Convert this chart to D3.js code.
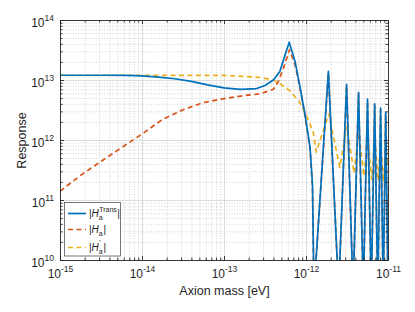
<!DOCTYPE html>
<html>
<head>
<meta charset="utf-8">
<script src="https://cdn.jsdelivr.net/npm/d3@7"></script>
<style>
  body { margin: 0; background: #fff; }
  svg { display: block; font-family: "Liberation Sans", Arial, Helvetica, sans-serif; }
</style>
</head>
<body>
<svg id="chart" width="415" height="312"></svg>
<script>
// tick values
var massTicks = [1e-15, 1e-14, 1e-13, 1e-12, 1e-11];
var massTickExp = ["-15", "-14", "-13", "-12", "-11"];
var respTicks = [1e10, 1e11, 1e12, 1e13, 1e14];
var respTickExp = ["10", "11", "12", "13", "14"];

// |H_a^Trans|
var transMass = [1e-15, 3.16e-15, 6.3e-15, 1e-14, 1.58e-14, 2.5e-14, 4e-14, 6.3e-14, 1e-13, 1.58e-13,
                 2.5e-13, 3.16e-13, 4e-13, 4.8e-13, 5.5e-13, 6.25e-13, 7.35e-13, 8.45e-13, 9.7e-13, 1.12e-12,
                 1.2e-12, 1.25e-12, 1.875e-12, 2.5e-12, 3.125e-12, 3.75e-12, 4.375e-12, 5e-12, 5.625e-12, 6.25e-12,
                 6.875e-12, 7.5e-12, 8.125e-12, 8.75e-12, 9.375e-12, 1e-11];
var transResp = [1.2e13, 1.2e13, 1.19e13, 1.175e13, 1.12e13, 1.05e13, 9.5e12, 8.3e12, 7.4e12, 7.0e12,
                 7.2e12, 8.1e12, 1.0e13, 1.38e13, 2.5e13, 4.27e13, 2.04e13, 7.6e12, 2.7e12, 7.6e11,
                 1.8e11, 3e9, 1.4e13, 3e9, 8.5e12, 3e9, 6.2e12, 3e9, 4.8e12, 3e9,
                 4.0e12, 3e9, 3.4e12, 3e9, 2.9e12, 3e9];

// |H_a|
var haMass = [1e-15, 1.78e-15, 3.16e-15, 5.6e-15, 1e-14, 1.78e-14, 3.16e-14, 5.6e-14, 1e-13, 1.78e-13,
              2.8e-13, 4e-13, 4.6e-13, 5.25e-13, 6.3e-13, 7.35e-13, 8.45e-13, 9.7e-13, 1.12e-12, 1.2e-12,
              1.25e-12, 1.875e-12, 2.5e-12, 3.125e-12, 3.75e-12, 4.375e-12, 5e-12, 5.625e-12, 6.25e-12,
              6.875e-12, 7.5e-12, 8.125e-12, 8.75e-12, 9.375e-12, 1e-11];
var haResp = [1.4e11, 2.57e11, 4.4e11, 7.4e11, 1.26e12, 2.2e12, 3.2e12, 4.2e12, 4.9e12, 5.5e12,
              5.9e12, 7.0e12, 9.5e12, 1.5e13, 3.2e13, 1.8e13, 7.4e12, 2.6e12, 7.1e11, 1.6e11,
              3e9, 1.3e13, 3e9, 8.0e12, 3e9, 5.8e12, 3e9, 4.5e12, 3e9,
              3.8e12, 3e9, 3.2e12, 3e9, 2.7e12, 3e9];

// |H'_a|
var hpMass = [1e-15, 1e-14, 1e-13, 1.78e-13, 2.8e-13, 4e-13, 4.8e-13, 6.4e-13, 8.45e-13, 1.02e-12,
              1.23e-12, 1.33e-12, 1.9e-12, 2.58e-12, 3.15e-12, 3.85e-12, 4.4e-12, 5.1e-12, 5.65e-12, 6.35e-12,
              6.9e-12, 7.6e-12, 8.1e-12, 8.85e-12, 9.35e-12, 1e-11];
var hpResp = [1.2e13, 1.2e13, 1.19e13, 1.15e13, 1.1e13, 1.0e13, 8.7e12, 6.6e12, 4.2e12, 2.5e12,
              1.32e12, 6.3e11, 2.7e12, 3.5e11, 1.66e12, 2.8e11, 1.32e12, 2.5e11, 1.12e12, 2.2e11,
              1.0e12, 2.1e11, 8.9e11, 2.0e11, 8.3e11, 4e11];

var blue = "#0072BD", orange = "#D95319", yellow = "#EDB120", ink = "#262626";

var L = 60, R = 388, T = 20, B = 260;
var svg = d3.select("#chart");

var x = d3.scaleLog().domain([1e-15, 1e-11]).range([L, R]),
    y = d3.scaleLog().domain([1e10, 1e14]).range([B, T]);

function isDecade(t, list) { return list.some(function(m) { return Math.abs(t / m - 1) < 1e-6; }); }
var minorX = x.ticks().filter(function(t) { return !isDecade(t, massTicks); });
var minorY = y.ticks().filter(function(t) { return !isDecade(t, respTicks); });

function clean(g) { g.select(".domain").remove(); g.attr("font-family", null).attr("font-size", null); }

// grid
svg.append("g").attr("transform", "translate(0," + B + ")")
  .call(d3.axisBottom(x).tickValues(minorX).tickSize(-(B - T)).tickFormat(""))
  .call(clean)
  .selectAll("line").attr("stroke", "#d2d2d2").attr("stroke-dasharray", "1,1.6");
svg.append("g").attr("transform", "translate(" + L + ",0)")
  .call(d3.axisLeft(y).tickValues(minorY).tickSize(-(R - L)).tickFormat(""))
  .call(clean)
  .selectAll("line").attr("stroke", "#d2d2d2").attr("stroke-dasharray", "1,1.6");
svg.append("g").attr("transform", "translate(0," + B + ")")
  .call(d3.axisBottom(x).tickValues(massTicks).tickSize(-(B - T)).tickFormat(""))
  .call(clean)
  .selectAll("line").attr("stroke", "#dcdcdc");
svg.append("g").attr("transform", "translate(" + L + ",0)")
  .call(d3.axisLeft(y).tickValues(respTicks).tickSize(-(R - L)).tickFormat(""))
  .call(clean)
  .selectAll("line").attr("stroke", "#dcdcdc");

// curves
svg.append("clipPath").attr("id", "plotclip")
  .append("rect").attr("x", L).attr("y", T).attr("width", R - L + 1).attr("height", B - T + 1);

var line = d3.line().x(function(d) { return x(d[0]); }).y(function(d) { return y(d[1]); });
var series = [
  { mass: hpMass, resp: hpResp, color: yellow, dash: "5,3.5" },
  { mass: haMass, resp: haResp, color: orange, dash: "5,3.5" },
  { mass: transMass, resp: transResp, color: blue, dash: null }
];
svg.append("g").attr("clip-path", "url(#plotclip)")
  .selectAll("path").data(series).enter().append("path")
  .attr("d", function(s) { return line(d3.zip(s.mass, s.resp)); })
  .attr("fill", "none")
  .attr("stroke", function(s) { return s.color; })
  .attr("stroke-width", 1.7)
  .attr("stroke-linejoin", "round")
  .attr("stroke-dasharray", function(s) { return s.dash; });

// ticks on all four sides
function ticks(axis, tr) {
  return svg.append("g").attr("transform", tr).call(axis).call(clean);
}
ticks(d3.axisBottom(x).tickValues(minorX).tickSize(-2.5).tickFormat(""), "translate(0," + B + ")");
ticks(d3.axisTop(x).tickValues(minorX).tickSize(-2.5).tickFormat(""), "translate(0," + T + ")");
ticks(d3.axisLeft(y).tickValues(minorY).tickSize(-2.5).tickFormat(""), "translate(" + L + ",0)");
ticks(d3.axisRight(y).tickValues(minorY).tickSize(-2.5).tickFormat(""), "translate(" + R + ",0)");
ticks(d3.axisTop(x).tickValues(massTicks).tickSize(-4).tickFormat(""), "translate(0," + T + ")");
ticks(d3.axisRight(y).tickValues(respTicks).tickSize(-4).tickFormat(""), "translate(" + R + ",0)");

var gx = ticks(d3.axisBottom(x).tickValues(massTicks).tickSize(-4).tickFormat(function() { return "10"; }),
               "translate(0," + B + ")");
gx.selectAll("text").attr("y", 17.5).attr("dy", null).attr("font-size", 12).attr("fill", ink)
  .append("tspan").attr("dy", -6).attr("font-size", 8.5).text(function(d, i) { return massTickExp[i]; });

var gy = ticks(d3.axisLeft(y).tickValues(respTicks).tickSize(-4).tickFormat(function() { return "10"; }),
               "translate(" + L + ",0)");
gy.selectAll("text").attr("x", -6).attr("dy", 6.5).attr("font-size", 12).attr("fill", ink)
  .append("tspan").attr("dy", -6).attr("font-size", 8.5).text(function(d, i) { return respTickExp[i]; });

svg.selectAll(".tick line").filter(function() { return !this.getAttribute("stroke-dasharray"); })
  .each(function() {
    var s = d3.select(this);
    if (s.attr("stroke") === "currentColor") s.attr("stroke", ink).attr("stroke-width", 0.9);
  });

// box
svg.append("rect").attr("x", L + 0.5).attr("y", T + 0.5).attr("width", R - L).attr("height", B - T)
  .attr("fill", "none").attr("stroke", ink).attr("stroke-width", 0.9);

// axis labels
svg.append("text").attr("x", (L + R) / 2 + 0.5).attr("y", 295).attr("text-anchor", "middle")
  .attr("font-size", 12.5).attr("fill", ink).text("Axion mass [eV]");
svg.append("text").attr("transform", "translate(26," + ((T + B) / 2 + 0.5) + ") rotate(-90)")
  .attr("text-anchor", "middle").attr("font-size", 12.5).attr("fill", ink).text("Response");

// legend
var lg = svg.append("g");
lg.append("rect").attr("x", 64.5).attr("y", 202.5).attr("width", 56).attr("height", 53.5)
  .attr("fill", "#fff").attr("stroke", "#555").attr("stroke-width", 0.8);
var entries = [
  { color: blue, dash: null, ly: 213.5, ty: 217, sup: "Trans", supSize: 7, supDy: -5.2 },
  { color: orange, dash: "5,3.5", ly: 229.5, ty: 233, sup: "", supSize: 7, supDy: -5.2 },
  { color: yellow, dash: "5,3.5", ly: 247.5, ty: 251, sup: "'", supSize: 8, supDy: -5.6 }
];
entries.forEach(function(e) {
  lg.append("line").attr("x1", 68).attr("x2", 86).attr("y1", e.ly).attr("y2", e.ly)
    .attr("stroke", e.color).attr("stroke-width", 1.7).attr("stroke-dasharray", e.dash);
  var t = lg.append("text").attr("x", 89).attr("y", e.ty).attr("font-size", 10).attr("fill", ink);
  t.append("tspan").text("|");
  t.append("tspan").attr("font-style", "italic").text("H");
  var w = t.node().getComputedTextLength();
  var sb = t.append("tspan").attr("y", e.ty + 3).attr("font-size", 7).text("a");
  var sp = t.append("tspan").attr("x", 89 + w + 0.3).attr("y", e.ty + e.supDy)
    .attr("font-size", e.supSize).text(e.sup);
  var w2 = Math.max(sb.node().getComputedTextLength(), sp.node().getComputedTextLength());
  t.append("tspan").attr("x", 89 + w + w2 + 0.8).attr("y", e.ty).text("|");
});
</script>
</body>
</html>
